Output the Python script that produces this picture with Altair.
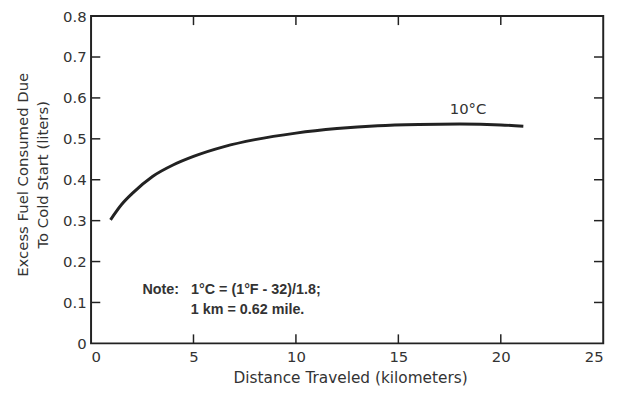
import altair as alt
import pandas as pd

# Curve (10 °C)
distance_km = [0.95, 1.5, 2.0, 3.0, 4.0, 5.0, 6.5, 8.0, 10.0, 12.0, 14.0, 16.0, 18.0, 20.0, 21.1]
excess_fuel_l = [0.302, 0.340, 0.366, 0.408, 0.436, 0.457, 0.481, 0.498, 0.514, 0.525, 0.532, 0.535, 0.536, 0.534, 0.531]

x_ticks = [0, 5, 10, 15, 20, 25]
y_ticks = [0, 0.1, 0.2, 0.3, 0.4, 0.5, 0.6, 0.7, 0.8]
inner_x_ticks = [5, 10, 15, 20]
inner_y_ticks = [0.1, 0.2, 0.3, 0.4, 0.5, 0.6, 0.7]

curve_label = ["10°C"]
note_lines = ["Note:\u00a0\u00a0 1°C = (1°F - 32)/1.8;", "1 km = 0.62 mile."]

FONT = "DejaVu Sans"
INK = "#222222"
TXT = "#333333"

curve_df = pd.DataFrame({"d": distance_km, "f": excess_fuel_l})

xs = alt.Scale(domain=[0, 25], nice=False, zero=False)
ys = alt.Scale(domain=[0, 0.8], nice=False, zero=False)

base_x = alt.X(
    "d:Q", scale=xs,
    axis=alt.Axis(values=x_ticks, ticks=False, domain=False, grid=False,
                  labelFont=FONT, labelFontSize=15, labelColor=TXT, labelPadding=6,
                  title="Distance Traveled (kilometers)", titleFont=FONT,
                  titleFontSize=15.5, titleFontWeight="normal", titleColor=TXT,
                  titleX=262, titlePadding=7),
)
base_y = alt.Y(
    "f:Q", scale=ys,
    axis=alt.Axis(values=y_ticks, ticks=False, domain=False, grid=False,
                  labelFont=FONT, labelFontSize=15, labelColor=TXT, labelPadding=5,
                  labelExpr="datum.value == 0 ? '0' : format(datum.value, '.1f')",
                  title=["Excess Fuel Consumed Due", "To Cold Start (liters)"],
                  titleFont=FONT, titleFontSize=15, titleFontWeight="normal",
                  titleColor=TXT, titlePadding=12, titleY=160, titleLineHeight=20),
)

line = alt.Chart(curve_df).mark_line(
    color=INK, strokeWidth=3, interpolate="monotone"
).encode(x=base_x, y=base_y)

# inward tick marks
bx = pd.DataFrame({"d": inner_x_ticks})
bottom_ticks = alt.Chart(bx).mark_rule(color=INK, strokeWidth=1.5).encode(
    x=alt.X("d:Q", scale=xs), y=alt.datum(0), y2=alt.datum(0.022))
top_ticks = alt.Chart(bx).mark_rule(color=INK, strokeWidth=1.5).encode(
    x=alt.X("d:Q", scale=xs), y=alt.datum(0.8), y2=alt.datum(0.778))
ly = pd.DataFrame({"f": inner_y_ticks})
left_ticks = alt.Chart(ly).mark_rule(color=INK, strokeWidth=1.5).encode(
    y=alt.Y("f:Q", scale=ys), x=alt.datum(0), x2=alt.datum(0.45))
right_ticks = alt.Chart(ly).mark_rule(color=INK, strokeWidth=1.5).encode(
    y=alt.Y("f:Q", scale=ys), x=alt.datum(25), x2=alt.datum(24.55))

label_df = pd.DataFrame({"t": curve_label, "d": [18.4], "f": [0.573]})
label = alt.Chart(label_df).mark_text(
    font=FONT, fontSize=15, color=TXT, align="center", baseline="middle"
).encode(x=alt.X("d:Q", scale=xs), y=alt.Y("f:Q", scale=ys), text="t:N")

note_df = pd.DataFrame({"t": note_lines, "d": [2.51, 4.87], "f": [0.1305, 0.082]})
note = alt.Chart(note_df).mark_text(
    font="Liberation Sans", fontSize=14.5, fontWeight="bold", color=TXT,
    align="left", baseline="middle"
).encode(x=alt.X("d:Q", scale=xs), y=alt.Y("f:Q", scale=ys), text="t:N")

chart = alt.layer(
    line, bottom_ticks, top_ticks, left_ticks, right_ticks, label, note
).properties(
    width=518, height=331,
    autosize=alt.AutoSizeParams(type="none"),
    padding={"left": 84, "top": 6, "right": 20, "bottom": 48},
    background="white",
).configure_view(stroke=INK, strokeWidth=2)

chart.save("out.html", embed_options={"renderer": "svg", "actions": False})
